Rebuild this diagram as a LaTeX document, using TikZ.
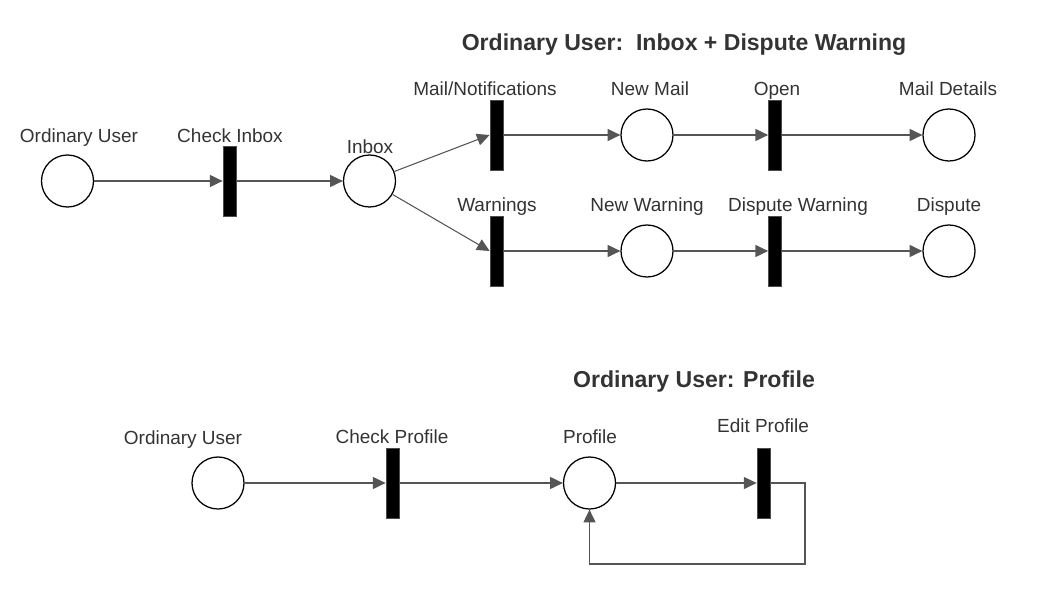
\documentclass[tikz,border=0pt]{standalone}
\usepackage{fontspec}
\setmainfont{Liberation Sans}
\usetikzlibrary{arrows.meta}
\definecolor{arcgray}{HTML}{555555}
\definecolor{txtgray}{HTML}{333333}

\begin{document}
\begin{tikzpicture}[x=0.025cm,y=-0.025cm,
	place/.style={circle,draw=black,line width=0.9pt,fill=white,minimum size=1.3cm,inner sep=0pt},
	trans/.style={rectangle,draw=black!70,fill=black,line width=0.4pt,minimum width=0.33cm,minimum height=1.75cm,inner sep=0pt},
	lbl/.style={anchor=base,text=txtgray,font=\fontsize{13.5}{16}\selectfont},
	heading/.style={anchor=base,text=txtgray,font=\fontsize{16.4}{19}\selectfont\bfseries},
	arc/.style={draw=arcgray,line width=0.75pt,-{Triangle[length=9pt,width=8.5pt]}}]
	\useasboundingbox (0,0) rectangle (1056,610);

	%INBOX + DISPUTE WARNING
	\node[heading] (title1) at (684,51) {Ordinary User:\ \ Inbox + Dispute Warning};
	\node[place] (user1) at (67.5,181) {};
	\node[trans] (chkinbox) at (229.5,181) {};
	\node[place] (inbox) at (369.5,181) {};
	\node[trans] (mail) at (496.5,135) {};
	\node[trans] (warn) at (496.5,251) {};
	\node[place] (newmail) at (647,135) {};
	\node[place] (newwarn) at (647,251) {};
	\node[trans] (open) at (775,135) {};
	\node[trans] (dispwarn) at (775,251) {};
	\node[place] (details) at (949,135) {};
	\node[place] (dispute) at (949,251) {};
	%
	\node[lbl] (l-user1) at (79,142.5) {Ordinary User};
	\node[lbl] (l-chkinbox) at (230,142.5) {Check Inbox};
	\node[lbl] (l-inbox) at (370,153) {Inbox};
	\node[lbl] (l-mail) at (485,95.5) {Mail/Notifications};
	\node[lbl] (l-warn) at (497,211) {Warnings};
	\node[lbl] (l-newmail) at (650,95.5) {New Mail};
	\node[lbl] (l-newwarn) at (647,211) {New Warning};
	\node[lbl] (l-open) at (777,95.5) {Open};
	\node[lbl] (l-dispwarn) at (798,211) {Dispute Warning};
	\node[lbl] (l-details) at (948,95.5) {Mail Details};
	\node[lbl] (l-dispute) at (949,211) {Dispute};
	%
	\draw[arc] (user1) -- (chkinbox);
	\draw[arc] (chkinbox) -- (inbox);
	\draw[arc] (inbox) -- (mail.west);
	\draw[arc] (inbox) -- (warn.west);
	\draw[arc] (mail) -- (newmail);
	\draw[arc] (newmail) -- (open);
	\draw[arc] (open) -- (details);
	\draw[arc] (warn) -- (newwarn);
	\draw[arc] (newwarn) -- (dispwarn);
	\draw[arc] (dispwarn) -- (dispute);

	%PROFILE
	\node[heading] (title2) at (694,387) {Ordinary User: Profile};
	\node[place] (user2) at (218,483) {};
	\node[trans] (chkprofile) at (392.5,483) {};
	\node[place] (profile) at (589.5,483) {};
	\node[trans] (edit) at (763.5,483) {};
	\coordinate (loop) at (805,564);
	%
	\node[lbl] (l-user2) at (183,444.5) {Ordinary User};
	\node[lbl] (l-chkprofile) at (392,443.5) {Check Profile};
	\node[lbl] (l-profile) at (590,443.5) {Profile};
	\node[lbl] (l-edit) at (763,432.5) {Edit Profile};
	%
	\draw[arc] (user2) -- (chkprofile);
	\draw[arc] (chkprofile) -- (profile);
	\draw[arc] (profile) -- (edit);
	\draw[arc] (edit.east) -| (loop) -| (profile.south);
\end{tikzpicture}
\end{document}
